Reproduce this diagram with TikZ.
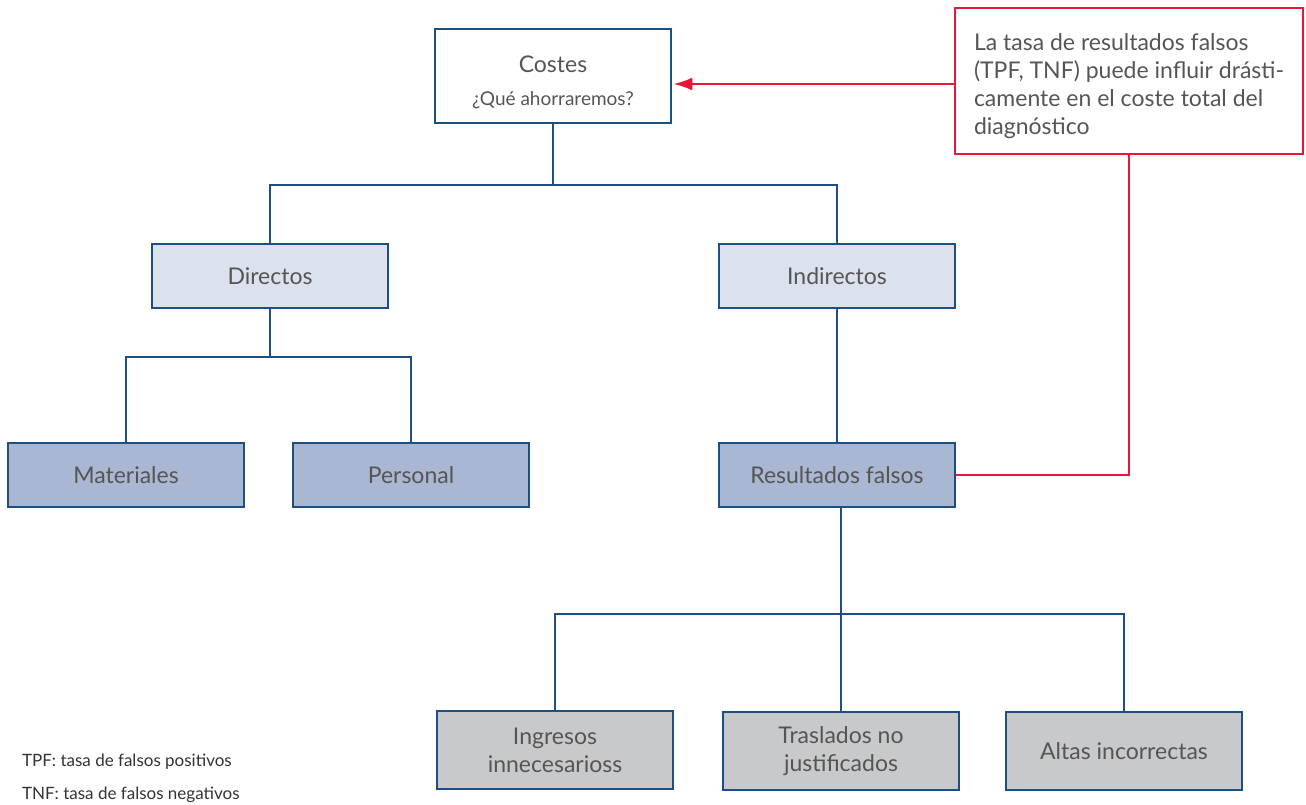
\documentclass[tikz,border=0pt]{standalone}
\usepackage{fontspec}
\setmainfont{Lato}
\usetikzlibrary{arrows.meta}
\definecolor{navy}{HTML}{1F4E85}
\definecolor{txtgray}{HTML}{555555}
\definecolor{paleblue}{HTML}{DCE1EE}
\definecolor{midblue}{HTML}{A9B7D3}
\definecolor{boxgray}{HTML}{C8C9CB}
\definecolor{alertred}{HTML}{E8173A}
\tikzset{
  costbox/.style={draw=navy, line width=1.5pt, minimum width=236pt, minimum height=64pt,
    text=txtgray, font=\fontsize{23}{28}\selectfont, align=center, inner sep=0pt},
  levelone/.style={costbox, fill=paleblue},
  leveltwo/.style={costbox, fill=midblue},
  levelthree/.style={costbox, fill=boxgray, minimum height=78pt},
  tree/.style={navy, line width=1.4pt},
  alert/.style={alertred, line width=2.5pt},
  footnote/.style={anchor=west, text=black!80, font=\fontsize{17}{20}\selectfont, inner sep=0pt}
}
\begin{document}
\begin{tikzpicture}[x=1pt,y=-1pt]
  \useasboundingbox (0,0) rectangle (1306,804);
  % top node and note
  \node[costbox, minimum height=94pt] (costes) at (553,76)
    {\rule{0pt}{30pt}Costes\\[5pt]{\fontsize{19}{22}\selectfont ¿Qué ahorraremos?}};
  \node[draw=alertred, line width=2.5pt, minimum width=348pt, minimum height=146pt,
    inner sep=0pt, text=txtgray, font=\fontsize{23}{28}\selectfont, align=left] (nota) at (1129,81)
    {\rule{0pt}{28pt}La tasa de resultados falsos\\(TPF, TNF) puede influir drásti-\\camente en el coste total del\\diagnóstico};
  % second level
  \node[levelone] (directos) at (270,276) {Directos};
  \node[levelone] (indirectos) at (837,276) {Indirectos};
  % third level
  \node[leveltwo] (materiales) at (126,475) {Materiales};
  \node[leveltwo] (personal) at (411,475) {Personal};
  \node[leveltwo] (falsos) at (837,475) {Resultados falsos};
  % bottom
  \node[levelthree] (ingresos) at (555,750) {Ingresos\\innecesarioss};
  \node[levelthree] (traslados) at (841,751) {Traslados no\\justificados};
  \node[levelthree] (altas) at (1124,751) {Altas incorrectas};
  % connectors
  \coordinate (b1) at (553,185);
  \coordinate (b2) at (270,357);
  \coordinate (b3) at (841,614);
  \draw[tree] (costes.south) -- (b1);
  \draw[tree] (directos.north) |- (b1) -| (indirectos.north);
  \draw[tree] (directos.south) -- (b2);
  \draw[tree] (materiales.north) |- (b2) -| (personal.north);
  \draw[tree] (indirectos.south) -- (falsos.north);
  \draw[tree] (falsos.south -| b3) -- (b3);
  \draw[tree] (ingresos.north) |- (b3) -| (altas.north);
  \draw[tree] (traslados.north) -- (b3);
  \draw[alert] (falsos.east) -| (nota.south);
  \draw[alert, -{Latex[length=19pt,width=13pt]}, shorten >=1.5pt] (nota.west |- 0,84) -- (costes.east |- 0,84);
  % footnotes
  \node[footnote] (tpf) at (22,762) {TPF: tasa de falsos positivos};
  \node[footnote] (tnf) at (22,795) {TNF: tasa de falsos negativos};
\end{tikzpicture}
\end{document}
